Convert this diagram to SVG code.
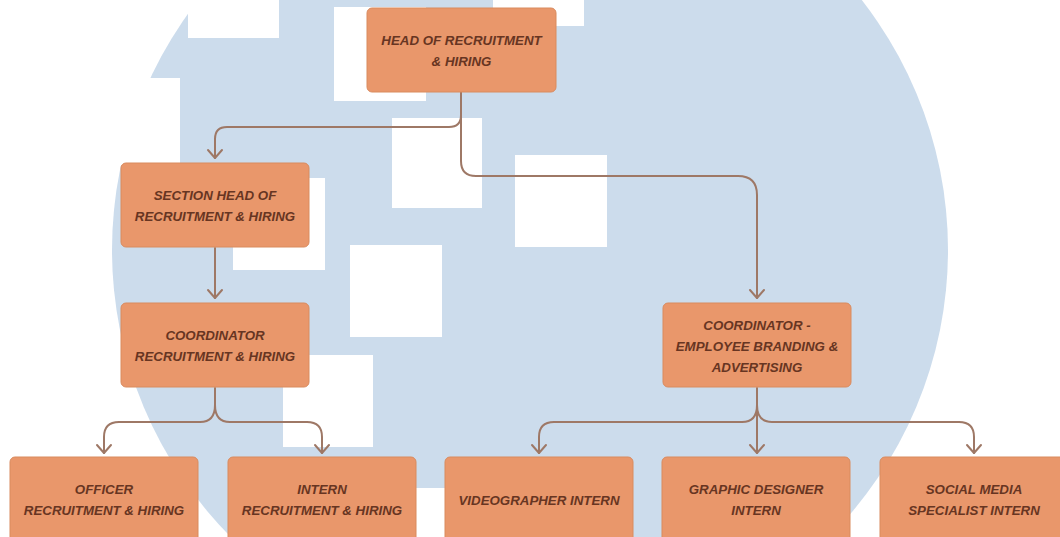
<svg xmlns="http://www.w3.org/2000/svg" width="1060" height="537" viewBox="0 0 1060 537">
<style>
.bg{fill:#ccdcec}
.hole{fill:#ffffff}
.box{fill:#e9976b;stroke:#d98b5f;stroke-width:1}
.lbl{font-family:"Liberation Sans",Arial,sans-serif;font-size:13.3px;font-weight:bold;font-style:italic;fill:#673522;text-anchor:middle}
.con{fill:none;stroke:#9e7866;stroke-width:2;stroke-linecap:round;stroke-linejoin:round}
</style>
<defs>
<marker id="arr" markerWidth="20" markerHeight="20" refX="10" refY="10" orient="auto" markerUnits="userSpaceOnUse" viewBox="0 0 20 20">
<path d="M2,3 L10,10 L2,17" fill="none" stroke="#9e7866" stroke-width="2" stroke-linecap="round" stroke-linejoin="round"/>
</marker>
</defs>
<rect width="1060" height="537" fill="#ffffff"/>
<g id="background">
<ellipse class="bg" cx="530" cy="250" rx="418" ry="411"/>
<rect class="hole" x="100" y="78" width="80" height="87"/>
<rect class="hole" x="188" y="-50" width="91" height="88"/>
<rect class="hole" x="334" y="7" width="92" height="94"/>
<rect class="hole" x="493" y="-65" width="91" height="91"/>
<rect class="hole" x="392" y="118" width="90" height="90"/>
<rect class="hole" x="515" y="155" width="92" height="92"/>
<rect class="hole" x="233" y="178" width="92" height="92"/>
<rect class="hole" x="350" y="245" width="92" height="92"/>
<rect class="hole" x="283" y="355" width="90" height="92"/>
<rect class="hole" x="400" y="488" width="46" height="60"/>
</g>
<g id="connectors">
<path class="con" d="M461,92 V115 Q461,127 449,127 H227 Q215,127 215,139 V158" marker-end="url(#arr)"/>
<path class="con" d="M461,92 V161 Q461,176 476,176 H738 Q757,176 757,195 V298" marker-end="url(#arr)"/>
<path class="con" d="M215,248 V298" marker-end="url(#arr)"/>
<path class="con" d="M215,388 V405 Q215,422 200,422 H119 Q104,422 104,437 V453" marker-end="url(#arr)"/>
<path class="con" d="M215,405 Q215,422 230,422 H307 Q322,422 322,437 V453" marker-end="url(#arr)"/>
<path class="con" d="M757,388 V453" marker-end="url(#arr)"/>
<path class="con" d="M757,405 Q757,422 742,422 H554 Q539,422 539,437 V453" marker-end="url(#arr)"/>
<path class="con" d="M757,405 Q757,422 772,422 H959 Q974,422 974,437 V453" marker-end="url(#arr)"/>
</g>
<g id="head">
<rect class="box" x="367" y="8" width="189" height="84" rx="5"/>
<text class="lbl" x="461.5" y="45">HEAD OF RECRUITMENT</text>
<text class="lbl" x="461.5" y="66">&amp; HIRING</text>
</g>
<g id="section-head">
<rect class="box" x="121" y="163" width="188" height="84" rx="5"/>
<text class="lbl" x="215" y="200">SECTION HEAD OF</text>
<text class="lbl" x="215" y="221">RECRUITMENT &amp; HIRING</text>
</g>
<g id="coord-rh">
<rect class="box" x="121" y="303" width="188" height="84" rx="5"/>
<text class="lbl" x="215" y="340">COORDINATOR</text>
<text class="lbl" x="215" y="361">RECRUITMENT &amp; HIRING</text>
</g>
<g id="coord-eba">
<rect class="box" x="663" y="303" width="188" height="84" rx="5"/>
<text class="lbl" x="757" y="330">COORDINATOR -</text>
<text class="lbl" x="757" y="351">EMPLOYEE BRANDING &amp;</text>
<text class="lbl" x="757" y="372">ADVERTISING</text>
</g>
<g id="officer">
<rect class="box" x="10" y="457" width="188" height="100" rx="5"/>
<text class="lbl" x="104" y="494">OFFICER</text>
<text class="lbl" x="104" y="515">RECRUITMENT &amp; HIRING</text>
</g>
<g id="intern-rh">
<rect class="box" x="228" y="457" width="188" height="100" rx="5"/>
<text class="lbl" x="322" y="494">INTERN</text>
<text class="lbl" x="322" y="515">RECRUITMENT &amp; HIRING</text>
</g>
<g id="videographer">
<rect class="box" x="445" y="457" width="188" height="100" rx="5"/>
<text class="lbl" x="539" y="504.5">VIDEOGRAPHER INTERN</text>
</g>
<g id="graphic">
<rect class="box" x="662" y="457" width="188" height="100" rx="5"/>
<text class="lbl" x="756" y="494">GRAPHIC DESIGNER</text>
<text class="lbl" x="756" y="515">INTERN</text>
</g>
<g id="social">
<rect class="box" x="880" y="457" width="188" height="100" rx="5"/>
<text class="lbl" x="974" y="494">SOCIAL MEDIA</text>
<text class="lbl" x="974" y="515">SPECIALIST INTERN</text>
</g>
</svg>
